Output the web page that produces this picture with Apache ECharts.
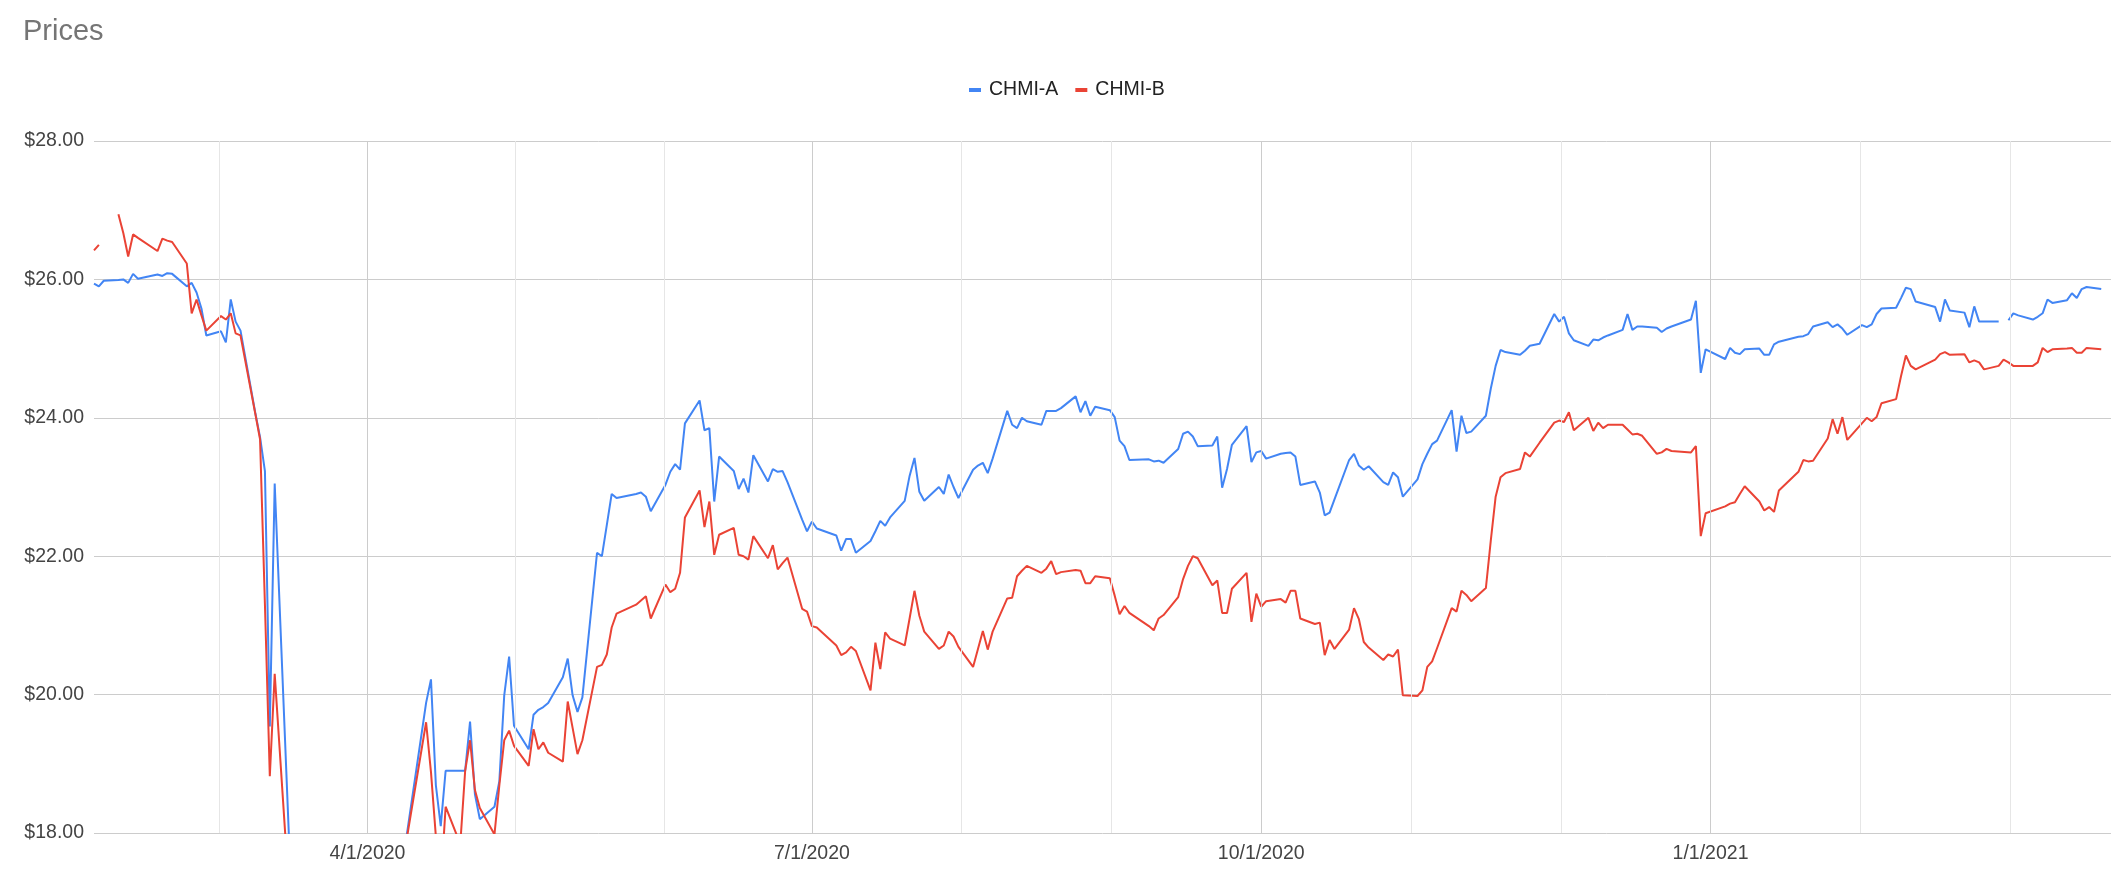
<!DOCTYPE html>
<html>
<head>
<meta charset="utf-8">
<script src="https://cdn.jsdelivr.net/npm/echarts@6/dist/echarts.min.js"></script>
<style>
html,body{margin:0;padding:0;background:#fff;}
#chart{width:2117px;height:874px;}
</style>
</head>
<body>
<div id="chart"></div>
<script>
// ---- data (trading days) ----
const dates = [
'2020-02-05','2020-02-06','2020-02-07','2020-02-10','2020-02-11','2020-02-12','2020-02-13','2020-02-14',
'2020-02-18','2020-02-19','2020-02-20','2020-02-21','2020-02-24','2020-02-25','2020-02-26','2020-02-27','2020-02-28',
'2020-03-02','2020-03-03','2020-03-04','2020-03-05','2020-03-06','2020-03-09','2020-03-10','2020-03-11','2020-03-12','2020-03-13',
'2020-03-16','2020-03-17','2020-03-18','2020-03-19','2020-03-20','2020-03-23','2020-03-24','2020-03-25','2020-03-26','2020-03-27',
'2020-03-30','2020-03-31','2020-04-01','2020-04-02','2020-04-03','2020-04-06','2020-04-07','2020-04-08','2020-04-09',
'2020-04-13','2020-04-14','2020-04-15','2020-04-16','2020-04-17','2020-04-20','2020-04-21','2020-04-22','2020-04-23','2020-04-24',
'2020-04-27','2020-04-28','2020-04-29','2020-04-30','2020-05-01','2020-05-04','2020-05-05','2020-05-06','2020-05-07','2020-05-08',
'2020-05-11','2020-05-12','2020-05-13','2020-05-14','2020-05-15','2020-05-18','2020-05-19','2020-05-20','2020-05-21','2020-05-22',
'2020-05-26','2020-05-27','2020-05-28','2020-05-29','2020-06-01','2020-06-02','2020-06-03','2020-06-04','2020-06-05',
'2020-06-08','2020-06-09','2020-06-10','2020-06-11','2020-06-12','2020-06-15','2020-06-16','2020-06-17','2020-06-18','2020-06-19',
'2020-06-22','2020-06-23','2020-06-24','2020-06-25','2020-06-26','2020-06-29','2020-06-30','2020-07-01','2020-07-02',
'2020-07-06','2020-07-07','2020-07-08','2020-07-09','2020-07-10','2020-07-13','2020-07-14','2020-07-15','2020-07-16','2020-07-17',
'2020-07-20','2020-07-21','2020-07-22','2020-07-23','2020-07-24','2020-07-27','2020-07-28','2020-07-29','2020-07-30','2020-07-31',
'2020-08-03','2020-08-04','2020-08-05','2020-08-06','2020-08-07','2020-08-10','2020-08-11','2020-08-12','2020-08-13','2020-08-14',
'2020-08-17','2020-08-18','2020-08-19','2020-08-20','2020-08-21','2020-08-24','2020-08-25','2020-08-26','2020-08-27','2020-08-28',
'2020-08-31','2020-09-01','2020-09-02','2020-09-03','2020-09-04','2020-09-08','2020-09-09','2020-09-10','2020-09-11',
'2020-09-14','2020-09-15','2020-09-16','2020-09-17','2020-09-18','2020-09-21','2020-09-22','2020-09-23','2020-09-24','2020-09-25',
'2020-09-28','2020-09-29','2020-09-30','2020-10-01','2020-10-02','2020-10-05','2020-10-06','2020-10-07','2020-10-08','2020-10-09',
'2020-10-12','2020-10-13','2020-10-14','2020-10-15','2020-10-16','2020-10-19','2020-10-20','2020-10-21','2020-10-22','2020-10-23',
'2020-10-26','2020-10-27','2020-10-28','2020-10-29','2020-10-30','2020-11-02','2020-11-03','2020-11-04','2020-11-05','2020-11-06',
'2020-11-09','2020-11-10','2020-11-11','2020-11-12','2020-11-13','2020-11-16','2020-11-17','2020-11-18','2020-11-19','2020-11-20',
'2020-11-23','2020-11-24','2020-11-25','2020-11-27','2020-11-30','2020-12-01','2020-12-02','2020-12-03','2020-12-04',
'2020-12-07','2020-12-08','2020-12-09','2020-12-10','2020-12-11','2020-12-14','2020-12-15','2020-12-16','2020-12-17','2020-12-18',
'2020-12-21','2020-12-22','2020-12-23','2020-12-24','2020-12-28','2020-12-29','2020-12-30','2020-12-31',
'2021-01-04','2021-01-05','2021-01-06','2021-01-07','2021-01-08','2021-01-11','2021-01-12','2021-01-13','2021-01-14','2021-01-15',
'2021-01-19','2021-01-20','2021-01-21','2021-01-22','2021-01-25','2021-01-26','2021-01-27','2021-01-28','2021-01-29',
'2021-02-01','2021-02-02','2021-02-03','2021-02-04','2021-02-05','2021-02-08','2021-02-09','2021-02-10','2021-02-11','2021-02-12',
'2021-02-16','2021-02-17','2021-02-18','2021-02-19','2021-02-22','2021-02-23','2021-02-24','2021-02-25','2021-02-26',
'2021-03-01','2021-03-02','2021-03-03','2021-03-04','2021-03-05','2021-03-08','2021-03-09','2021-03-10','2021-03-11','2021-03-12',
'2021-03-15','2021-03-16','2021-03-17','2021-03-18','2021-03-19','2021-03-22'
];

const chmiA = [
25.94,25.90,25.98,25.99,26.00,25.95,26.08,26.01,
26.07,26.05,26.09,26.08,25.90,25.95,25.81,25.58,25.19,
25.25,25.09,25.71,25.39,25.26,24.08,23.72,23.23,19.54,23.05,
17.8,16.2,15.1,15.6,14.8,14.2,15.3,15.9,16.4,15.9,
16.2,16.0,15.5,15.8,15.6,16.8,16.9,17.1,17.95,
19.88,20.22,18.69,18.10,18.90,18.90,18.90,19.61,18.56,18.20,
18.38,18.75,19.99,20.55,19.55,19.21,19.71,19.78,19.82,19.88,
20.25,20.52,19.99,19.75,19.96,22.05,22.00,22.45,22.90,22.84,
22.90,22.92,22.86,22.65,23.03,23.22,23.33,23.25,23.92,
24.25,23.82,23.85,22.79,23.44,23.23,22.97,23.12,22.92,23.46,
23.08,23.26,23.22,23.23,23.07,22.53,22.36,22.50,22.40,
22.30,22.08,22.25,22.25,22.05,22.22,22.36,22.51,22.44,22.56,
22.80,23.16,23.42,22.93,22.80,23.00,22.90,23.18,23.00,22.84,
23.25,23.31,23.35,23.20,23.41,24.10,23.90,23.85,24.00,23.95,
23.90,24.10,24.10,24.10,24.14,24.31,24.08,24.24,24.03,24.16,
24.11,24.01,23.67,23.59,23.39,23.40,23.37,23.38,23.35,
23.55,23.77,23.80,23.73,23.59,23.60,23.73,22.99,23.26,23.61,
23.88,23.36,23.50,23.52,23.41,23.48,23.49,23.50,23.44,23.03,
23.08,22.92,22.59,22.63,22.82,23.39,23.48,23.31,23.25,23.30,
23.07,23.03,23.21,23.14,22.86,23.11,23.33,23.48,23.62,23.67,
24.11,23.51,24.03,23.78,23.80,24.03,24.42,24.75,24.98,24.95,
24.91,24.97,25.04,25.07,25.50,25.39,25.46,25.22,25.12,
25.04,25.13,25.12,25.16,25.19,25.27,25.50,25.27,25.32,25.32,
25.30,25.24,25.29,25.32,25.42,25.69,24.65,24.99,
24.85,25.01,24.94,24.92,24.99,25.00,24.91,24.91,25.06,25.10,
25.17,25.18,25.21,25.32,25.38,25.31,25.35,25.29,25.20,
25.34,25.31,25.35,25.50,25.58,25.59,25.73,25.88,25.86,25.68,
25.60,25.39,25.71,25.55,25.52,25.31,25.61,25.39,25.39,
25.39,null,25.41,25.51,25.48,25.42,25.46,25.51,25.71,25.66,
25.70,25.80,25.73,25.86,25.89,25.86
];

const chmiB = [
26.42,26.50,null,26.94,26.67,26.33,26.65,26.60,
26.41,26.59,26.56,26.54,26.23,25.51,25.71,25.48,25.26,
25.47,25.42,25.51,25.22,25.19,24.07,23.69,21.30,18.82,20.30,
17.08,16.0,14.9,15.3,14.5,14.0,15.0,15.6,16.1,15.6,
16.0,15.8,15.3,15.6,15.4,16.6,16.7,16.9,17.9,
19.60,18.88,17.95,17.24,18.38,17.84,18.90,19.34,18.62,18.36,
17.98,18.69,19.34,19.48,19.26,18.97,19.50,19.21,19.31,19.16,
19.03,19.90,19.52,19.14,19.34,20.40,20.43,20.58,20.97,21.17,
21.30,21.36,21.42,21.10,21.59,21.48,21.53,21.76,22.56,
22.95,22.42,22.79,22.02,22.31,22.41,22.02,22.00,21.95,22.29,
21.97,22.16,21.81,21.90,21.98,21.24,21.20,20.99,20.97,
20.71,20.57,20.61,20.69,20.63,20.06,20.75,20.37,20.90,20.81,
20.71,21.10,21.50,21.14,20.91,20.66,20.71,20.91,20.84,20.69,
20.40,20.66,20.92,20.65,20.91,21.39,21.40,21.71,21.79,21.86,
21.76,21.82,21.93,21.74,21.77,21.80,21.79,21.61,21.61,21.71,
21.68,21.43,21.16,21.28,21.18,20.99,20.93,21.10,21.15,
21.41,21.67,21.86,22.00,21.97,21.58,21.65,21.18,21.18,21.53,
21.76,21.05,21.46,21.27,21.35,21.38,21.33,21.50,21.50,21.10,
21.02,21.04,20.57,20.79,20.66,20.94,21.25,21.09,20.76,20.68,
20.50,20.58,20.55,20.65,19.99,19.98,20.06,20.40,20.48,20.67,
21.25,21.20,21.50,21.44,21.35,21.54,22.22,22.86,23.14,23.20,
23.26,23.50,23.44,23.64,23.93,23.96,23.94,24.08,23.82,
24.00,23.81,23.93,23.85,23.90,23.90,23.83,23.76,23.77,23.74,
23.48,23.50,23.55,23.52,23.50,23.59,22.29,22.62,
22.72,22.76,22.78,22.90,23.01,22.79,22.66,22.71,22.64,22.95,
23.22,23.39,23.37,23.38,23.70,23.98,23.77,24.01,23.68,
23.92,24.00,23.95,24.01,24.21,24.27,24.60,24.90,24.75,24.70,
24.84,24.92,24.95,24.91,24.92,24.80,24.83,24.80,24.70,
24.75,24.84,24.80,24.75,24.75,24.75,24.80,25.01,24.95,24.99,
25.00,25.01,24.94,24.94,25.01,24.99
];

const seriesNames = ['CHMI-A', 'CHMI-B'];
const labelDates = ['2020-04-01', '2020-07-01', '2020-10-01', '2021-01-01'];
const axisStart = '2020-02-05';
const axisEnd = '2021-03-24';

// ---- helpers ----
function ts(s) {
  const p = s.split('-').map(Number);
  return new Date(p[0], p[1] - 1, p[2]).getTime();
}
const xMin = ts(axisStart), xMax = ts(axisEnd);
const majors = labelDates.map(ts);

// minor gridlines at thirds between the quarterly major gridlines
const ext = [majors[0] - (majors[1] - majors[0])].concat(majors,
  [majors[majors.length - 1] + (majors[majors.length - 1] - majors[majors.length - 2])]);
const gridLines = [];
for (let i = 0; i < ext.length - 1; i++) {
  const a = ext[i], b = ext[i + 1];
  if (i > 0) gridLines.push({ v: a, major: true });
  gridLines.push({ v: a + (b - a) / 3, major: false });
  gridLines.push({ v: a + 2 * (b - a) / 3, major: false });
}
const markData = gridLines.filter(g => g.v > xMin && g.v < xMax).map(g => ({
  xAxis: g.v,
  lineStyle: { color: g.major ? '#cccccc' : '#e6e6e6', width: 1, type: 'solid' }
}));

function fmtDate(v) {
  const d = new Date(v);
  return (d.getMonth() + 1) + '/' + d.getDate() + '/' + d.getFullYear();
}

const FONT = '"Liberation Sans", Arial, sans-serif';

const chart = echarts.init(document.getElementById('chart'), null, { renderer: 'canvas' });
chart.setOption({
  animation: false,
  backgroundColor: '#ffffff',
  title: {
    text: 'Prices',
    left: 23,
    top: 17,
    padding: 0,
    textStyle: { fontFamily: FONT, fontSize: 29, fontWeight: 'normal', color: '#757575' }
  },
  legend: {
    data: seriesNames,
    left: 969,
    top: 80,
    padding: 0,
    icon: 'rect',
    itemWidth: 12,
    itemHeight: 4,
    itemGap: 17,
    textStyle: { fontFamily: FONT, fontSize: 19.5, color: '#222222', padding: [0, 0, 0, 3] }
  },
  grid: { left: 94, right: 6, top: 141, bottom: 41, containLabel: false },
  xAxis: {
    type: 'value',
    min: xMin,
    max: xMax,
    scale: true,
    splitLine: { show: false },
    axisLine: { show: false },
    axisTick: { show: false },
    axisLabel: {
      customValues: majors,
      formatter: fmtDate,
      margin: 11,
      fontFamily: FONT,
      fontSize: 19.5,
      color: '#444444',
      hideOverlap: false
    }
  },
  yAxis: {
    type: 'value',
    min: 18,
    max: 28,
    interval: 2,
    axisLine: { show: false },
    axisTick: { show: false },
    splitLine: { show: true, lineStyle: { color: '#cccccc', width: 1 } },
    axisLabel: {
      formatter: v => '$' + v.toFixed(2),
      margin: 10,
      fontFamily: FONT,
      fontSize: 19.5,
      color: '#444444'
    }
  },
  series: [
    {
      name: 'gridlines',
      type: 'line',
      z: 1,
      silent: true,
      data: [[xMin, null]],
      showSymbol: false,
      markLine: {
        silent: true,
        symbol: 'none',
        label: { show: false },
        animation: false,
        data: markData
      }
    },
    {
      name: seriesNames[0],
      type: 'line',
      z: 3,
      data: dates.map((d, i) => [ts(d), chmiA[i]]),
      showSymbol: false,
      clip: true,
      connectNulls: false,
      color: '#4285f4',
      lineStyle: { color: '#4285f4', width: 2 }
    },
    {
      name: seriesNames[1],
      type: 'line',
      z: 4,
      data: dates.map((d, i) => [ts(d), chmiB[i]]),
      showSymbol: false,
      clip: true,
      connectNulls: false,
      color: '#ea4335',
      lineStyle: { color: '#ea4335', width: 2 }
    }
  ]
});
</script>
</body>
</html>
